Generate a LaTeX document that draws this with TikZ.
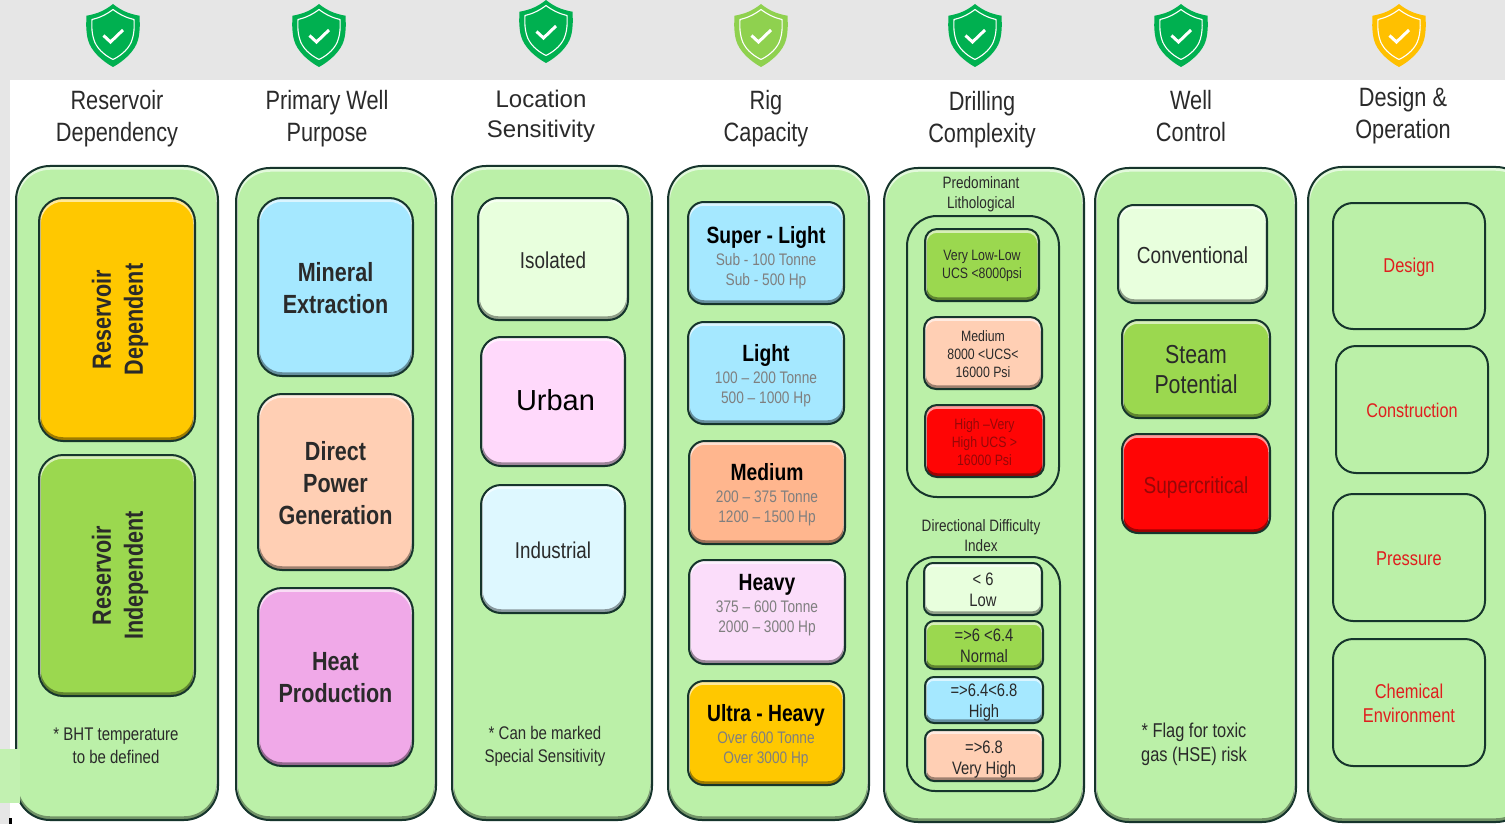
\documentclass[tikz,border=0pt]{standalone}
\usepackage{fontspec}
\setmainfont{Liberation Sans}[FakeStretch=0.82]
\newfontfamily\widefont{Liberation Sans}
\definecolor{panelG}{HTML}{BBF0A8}
\definecolor{edgeD}{HTML}{16352C}
\definecolor{bandG}{HTML}{E6E6E6}
\definecolor{amberF}{HTML}{FFC800}
\definecolor{leafF}{HTML}{9BD84F}
\definecolor{skyF}{HTML}{A5E8FF}
\definecolor{peachF}{HTML}{FFCFB4}
\definecolor{orchidF}{HTML}{F0A9E8}
\definecolor{mintF}{HTML}{E8FFDD}
\definecolor{pinkF}{HTML}{FFD9FB}
\definecolor{iceF}{HTML}{DEF8FF}
\definecolor{orangeF}{HTML}{FFB68E}
\definecolor{lilacF}{HTML}{FBDDFA}
\definecolor{redF}{HTML}{FF0505}
\definecolor{shGreen}{HTML}{00B050}
\definecolor{shLime}{HTML}{8FD14F}
\definecolor{shGold}{HTML}{FFC000}
\definecolor{subGrey}{HTML}{7F7F7F}
\definecolor{textD}{HTML}{2A2A2A}
\definecolor{redT}{HTML}{E01E1E}
\definecolor{darkRed}{HTML}{960808}
\newcommand{\fsz}[1]{\fontsize{#1}{#1}\selectfont}
\tikzset{
  bevelbox/.style={draw=edgeD,line width=2pt,inner sep=0pt},
  plainbox/.style={draw=edgeD,line width=2pt,inner sep=0pt},
  boxtext/.style={inner sep=0pt,align=center,text=textD},
  ttl/.style={align=center,text=textD,font=\fontsize{26.5}{32}\selectfont},
  note/.style={align=center,text=textD,font=\fontsize{18.3}{23}\selectfont},
  tbf/.style={font=\fontsize{26.3}{32}\selectfont\bfseries},
  sm/.style={font=\fontsize{15}{18}\selectfont},
  lab/.style={align=center,text=textD,font=\fontsize{16.5}{20}\selectfont},
  idx/.style={font=\fontsize{18}{21}\selectfont},
  rigt/.style={font=\fontsize{16.7}{20}\selectfont,text=subGrey},
}
% name x0 y0 x1 y1 fill radius text-options text
\newcommand{\bx}[9]{%
  \node[bevelbox,fill=#6,rounded corners=#7pt,minimum width=#4pt-#2pt,minimum height=#5pt-#3pt,
    path picture={
      \draw[black,opacity=.38,line width=3.5pt,rounded corners=#7pt]
        ([yshift=2pt]path picture bounding box.south west) rectangle ([yshift=2pt]path picture bounding box.north east);
      \draw[white,opacity=.6,line width=3.5pt,rounded corners=#7pt]
        ([yshift=-2pt]path picture bounding box.south west) rectangle ([yshift=-2pt]path picture bounding box.north east);
    }] (#1) at ({(#2+#4)/2},{(#3+#5)/2}) {};
  \node[boxtext,yshift=-1pt,#8] (#1t) at (#1.center) {#9};}
\newcommand{\olbx}[9]{%
  \node[plainbox,rounded corners=#7pt,minimum width=#4pt-#2pt,minimum height=#5pt-#3pt] (#1) at ({(#2+#4)/2},{(#3+#5)/2}) {};
  \node[boxtext,yshift=-1pt,#8] (#1t) at (#1.center) {#9};}
\newcommand{\shield}[4]{%
  \begin{scope}[shift={(#2,#3)}]
    \fill[#4] (0,0) .. controls (8,6.5) and (16,10) .. (26.5,11.7)
      .. controls (27,22) and (27,28) .. (25,36) .. controls (22,47) and (11,57) .. (0,63)
      .. controls (-11,57) and (-22,47) .. (-25,36) .. controls (-27,28) and (-27,22) .. (-26.5,11.7)
      .. controls (-16,10) and (-8,6.5) .. (0,0) -- cycle;
    \draw[white,line width=1.1pt,line join=round] (0,5.5) .. controls (6.5,10.5) and (14,14) .. (21,15.5)
      .. controls (21.5,24) and (21,29) .. (19.5,34.5) .. controls (17,44) and (9,51) .. (0,55.5)
      .. controls (-9,51) and (-17,44) .. (-19.5,34.5) .. controls (-21,29) and (-21.5,24) .. (-21,15.5)
      .. controls (-14,14) and (-6.5,10.5) .. (0,5.5) -- cycle;
    \draw[white,line width=3pt] (-9.5,31.5) -- (-2.5,38) -- (10,26);
    \coordinate (#1) at (0,30);
  \end{scope}}
\newcommand{\rig}[3]{{\fontsize{23.5}{20}\selectfont\bfseries\textcolor{black}{#1}}\\[2pt]#2\\#3}
\begin{document}
\begin{tikzpicture}[x=1pt,y=-1pt]
\useasboundingbox (0,0) rectangle (1505,824);
\clip (0,0) rectangle (1505,824);
\fill[white] (0,0) rectangle (1505,824);
\fill[bandG] (0,0) rectangle (1505,80);
\fill[bandG] (0,0) rectangle (10,824);

\shield{sA}{113}{4}{shGreen}
\shield{sB}{319}{4}{shGreen}
\shield{sC}{546}{0}{shGreen}
\shield{sD}{761}{4}{shLime}
\shield{sE}{975}{4}{shGreen}
\shield{sF}{1181}{4}{shGreen}
\shield{sG}{1399}{4}{shGold}

\node[ttl] (tA) at (117,119) {Reservoir\\Dependency};
\node[ttl] (tB) at (327,119) {Primary Well\\Purpose};
\node[ttl,font=\widefont\fontsize{24}{30}\selectfont] (tC) at (541,116) {Location\\Sensitivity};
\node[ttl] (tD) at (766,119) {Rig\\Capacity};
\node[ttl] (tE) at (982,120) {Drilling\\Complexity};
\node[ttl] (tF) at (1191,116) {Well\\Control};
\node[ttl] (tG) at (1403,115.5) {Design \&\\Operation};

% outer panels
\bx{pA}{16}{166}{218}{820}{panelG}{34}{}{}
\bx{pB}{236}{168}{436}{820}{panelG}{34}{}{}
\bx{pC}{452}{166}{652}{820}{panelG}{34}{}{}
\bx{pD}{668}{166}{869}{820}{panelG}{34}{}{}
\bx{pE}{884}{168}{1084}{822}{panelG}{34}{}{}
\bx{pF}{1095}{168}{1296}{822}{panelG}{34}{}{}
\bx{pG}{1308}{167}{1530}{822}{panelG}{34}{}{}

% column 1
\bx{rd}{39}{198}{195}{441}{amberF}{24}{tbf,rotate=90,xshift=1pt,yshift=-3pt}{Reservoir\\Dependent}
\bx{ri}{39}{455}{195}{696}{leafF}{24}{tbf,rotate=90,xshift=1pt,yshift=-3pt}{Reservoir\\Independent}
\node[note] (nA) at (116,746) {* BHT temperature\\to be defined};

% column 2
\bx{me}{258}{198}{413}{376}{skyF}{24}{tbf}{Mineral\\Extraction}
\bx{dp}{258}{394}{413}{570}{peachF}{24}{tbf}{Direct\\Power\\Generation}
\bx{hp}{258}{588}{413}{766}{orchidF}{24}{tbf}{Heat\\Production}

% column 3
\bx{iso}{478}{198}{628}{320}{mintF}{20}{font=\fsz{23}}{Isolated}
\bx{urb}{481}{337}{625}{466}{pinkF}{20}{font=\widefont\fsz{29},text=black,xshift=2.5pt,yshift=2pt}{Urban}
\bx{ind}{481}{485}{625}{613}{iceF}{20}{font=\fsz{22.9}}{Industrial}
\node[note] (nC) at (545,746) {* Can be marked\\Special Sensitivity};

% column 4
\bx{rA}{688}{202}{844}{304}{skyF}{16}{rigt,yshift=-4pt}{\rig{Super - Light}{Sub - 100 Tonne}{Sub - 500 Hp}}
\bx{rB}{688}{322}{844}{424}{skyF}{16}{rigt,yshift=-2pt}{\rig{Light}{100 – 200 Tonne}{500 – 1000 Hp}}
\bx{rC}{689}{441}{845}{544}{orangeF}{16}{rigt,yshift=-1pt}{\rig{Medium}{200 – 375 Tonne}{1200 – 1500 Hp}}
\bx{rD}{689}{560}{845}{664}{lilacF}{16}{rigt,yshift=8pt}{\rig{Heavy}{375 – 600 Tonne}{2000 – 3000 Hp}}
\bx{rE}{688}{681}{844}{785}{amberF}{16}{rigt,yshift=-2pt}{\rig{Ultra - Heavy}{Over 600 Tonne}{Over 3000 Hp}}

% column 5
\node[lab] (lPL) at (981,194.5) {Predominant\\Lithological};
\olbx{gL}{907}{216}{1059}{497}{}{30}{}{}
\bx{lA}{925}{229}{1039}{301}{leafF}{12}{sm}{Very Low-Low\\UCS <8000psi}
\bx{lB}{924}{317}{1042}{389}{peachF}{12}{sm}{Medium\\8000 <UCS<\\16000 Psi}
\bx{lC}{925}{405}{1044}{477}{redF}{12}{sm,text=darkRed}{High –Very\\High UCS >\\16000 Psi}
\node[lab] (lDD) at (981,536) {Directional Difficulty\\Index};
\olbx{gD}{907}{557}{1060}{791}{}{28}{}{}
\bx{dA}{924}{563}{1042}{615}{mintF}{9}{idx}{< 6\\Low}
\bx{dB}{925}{621}{1043}{669}{leafF}{9}{idx}{=>6 <6.4\\Normal}
\bx{dC}{925}{677}{1043}{723}{skyF}{9}{idx,yshift=-2pt}{=>6.4<6.8\\High}
\bx{dD}{925}{730}{1043}{781}{peachF}{9}{idx,yshift=-3pt}{=>6.8\\Very High}

% column 6
\bx{wA}{1118}{205}{1267}{303}{mintF}{16}{font=\fsz{23.2}}{Conventional}
\bx{wB}{1122}{320}{1270}{418}{leafF}{16}{font=\fontsize{26}{30}\selectfont}{Steam\\Potential}
\bx{wC}{1122}{434}{1270}{533}{redF}{16}{font=\fsz{23.2},text=darkRed,yshift=-3pt}{Supercritical}
\node[note,font=\fontsize{20}{24}\selectfont] (nF) at (1194,744) {* Flag for toxic\\gas (HSE) risk};

% column 7
\olbx{oA}{1333}{203}{1485}{329}{}{20}{font=\fsz{20},text=redT}{Design}
\olbx{oB}{1336}{346}{1488}{473}{}{20}{font=\fsz{19.8},text=redT}{Construction}
\olbx{oC}{1333}{494}{1485}{621}{}{20}{font=\fsz{20},text=redT}{Pressure}
\olbx{oD}{1333}{639}{1485}{766}{}{20}{font=\fontsize{20}{24}\selectfont,text=redT}{Chemical\\Environment}

% page-edge patches
\fill[panelG!90!white] (0,749) rectangle (20,803);
\fill[black] (9,818) rectangle (12,824);
\end{tikzpicture}
\end{document}
